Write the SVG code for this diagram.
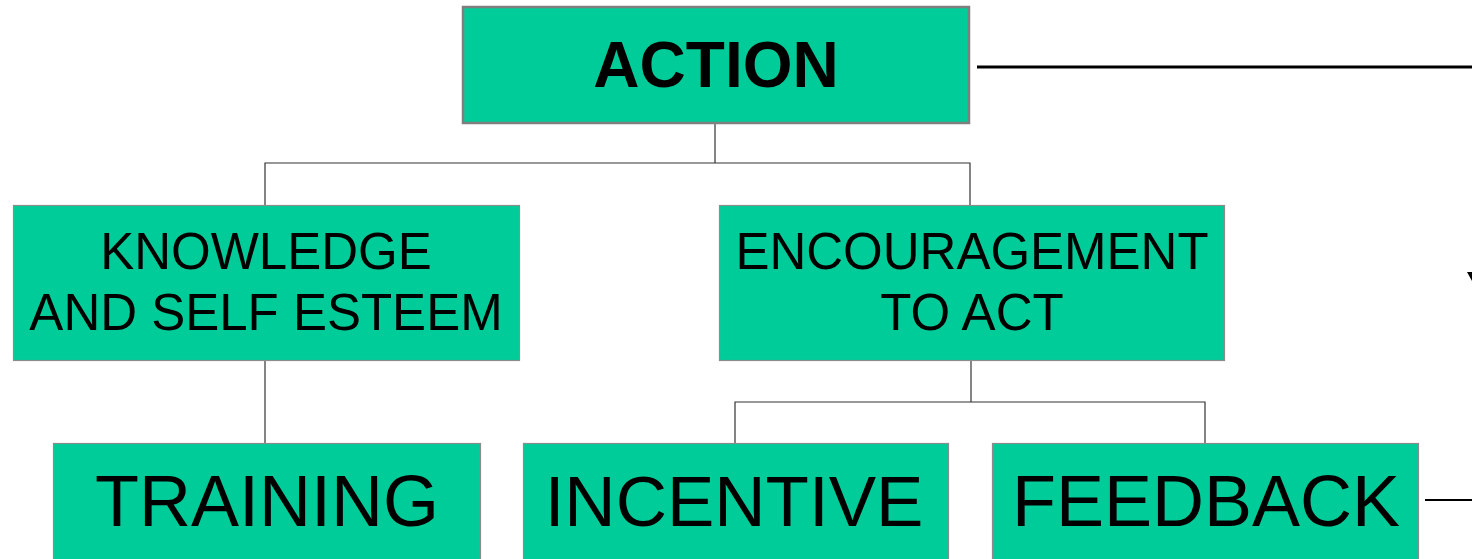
<svg xmlns="http://www.w3.org/2000/svg" width="1472" height="559" viewBox="0 0 1472 559">
<style>
.box{fill:#00cc99;stroke:#8c8c8c;stroke-width:1.2}
.top{fill:#00cc99;stroke:#7f7f7f;stroke-width:2.5}
.t{font-family:"Liberation Sans",Arial,sans-serif;fill:#000;text-anchor:middle}
.c{stroke:#333;stroke-width:1.2;fill:none}
</style>
<rect width="1472" height="559" fill="#fff"/>
<g id="connectors">
<polyline class="c" points="715,123 715,163"/>
<polyline class="c" points="265,205 265,163 970,163 970,205"/>
<polyline class="c" points="265,360 265,443"/>
<polyline class="c" points="971,360 971,402"/>
<polyline class="c" points="735,443 735,402 1205,402 1205,443"/>
<line x1="977" y1="67" x2="1472" y2="67" stroke="#000" stroke-width="3"/>
<line x1="1425" y1="500" x2="1472" y2="500" stroke="#000" stroke-width="2"/>
<polygon points="1467,272 1472,272 1472,281" fill="#000"/>
</g>
<g id="action">
<rect class="top" x="463" y="7" width="506" height="116"/>
<text class="t" x="716" y="87" font-size="64" font-weight="bold">ACTION</text>
</g>
<g id="knowledge">
<rect class="box" x="13.5" y="205.5" width="506" height="155"/>
<text class="t" x="266" y="269" font-size="51">KNOWLEDGE</text>
<text class="t" x="266" y="330" font-size="51">AND SELF ESTEEM</text>
</g>
<g id="encouragement">
<rect class="box" x="719.5" y="205.5" width="505" height="155"/>
<text class="t" x="972" y="269" font-size="51">ENCOURAGEMENT</text>
<text class="t" x="972" y="330" font-size="51">TO ACT</text>
</g>
<g id="training">
<rect class="box" x="53.5" y="443.5" width="427" height="120"/>
<text class="t" x="267" y="526" font-size="72">TRAINING</text>
</g>
<g id="incentive">
<rect class="box" x="523.5" y="443.5" width="425" height="120"/>
<text class="t" x="734" y="526" font-size="71">INCENTIVE</text>
</g>
<g id="feedback">
<rect class="box" x="992.5" y="443.5" width="426" height="120"/>
<text class="t" x="1206" y="526" font-size="72">FEEDBACK</text>
</g>
</svg>
